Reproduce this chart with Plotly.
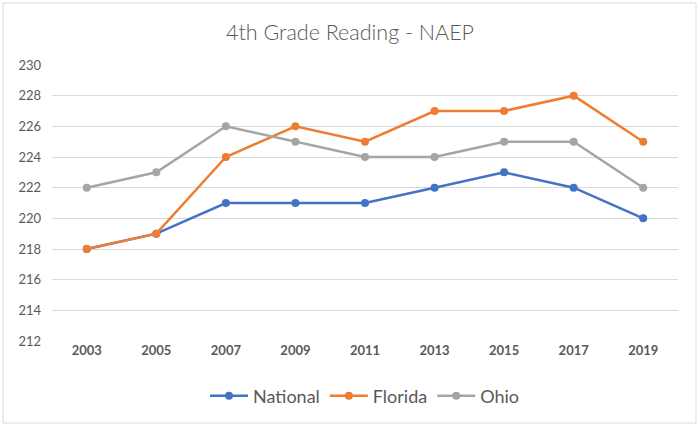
import plotly.graph_objects as go

years = ["2003", "2005", "2007", "2009", "2011", "2013", "2015", "2017", "2019"]
national = [218, 219, 221, 221, 221, 222, 223, 222, 220]
florida = [218, 219, 224, 226, 225, 227, 227, 228, 225]
ohio = [222, 223, 226, 225, 224, 224, 225, 225, 222]
y_ticks = [212, 214, 216, 218, 220, 222, 224, 226, 228, 230]

series = [("National", national, "#4472C4"), ("Florida", florida, "#ED7D31"), ("Ohio", ohio, "#A5A5A5")]

fig = go.Figure()
for name, vals, col in series:
    fig.add_trace(go.Scatter(x=years, y=vals, name=name, mode="lines+markers",
                             line=dict(color=col, width=2.5),
                             marker=dict(color=col, size=8),
                             cliponaxis=False))

L, R, T, B = 52, 22, 65, 86
W, H = 700, 427
pw, ph = W - L - R, H - T - B

fig.update_layout(
    width=W, height=H,
    margin=dict(l=L, r=R, t=T, b=B),
    paper_bgcolor="white", plot_bgcolor="white",
    font=dict(family="Lato, 'Open Sans', sans-serif", color="#595959"),
    title=dict(text="4th Grade Reading - NAEP", x=0.5, xanchor="center",
               y=1 - 32 / H, yanchor="middle",
               font=dict(size=21.5, color="#595959", family="Lato, sans-serif", weight=300)),
    xaxis=dict(type="category", showgrid=False, zeroline=False, showline=False,
               ticks="", tickfont=dict(size=13, color="#595959", family="Lato, sans-serif", weight="bold"),
               range=[-0.5, len(years) - 0.5]),
    yaxis=dict(range=[212, 230], tickvals=y_ticks, showgrid=True, gridcolor="#D9D9D9",
               gridwidth=1, zeroline=False, showline=False, ticks="",
               tickfont=dict(size=13, color="#595959"), ticklabelstandoff=10),
    legend=dict(orientation="h", x=0.5, xanchor="center", y=-(396 - 341) / ph, yanchor="middle",
                font=dict(size=18, color="#595959"), itemwidth=38, traceorder="normal"),
    showlegend=True,
)

fig.add_shape(type="rect", xref="paper", yref="paper",
              x0=(3 - L) / pw, x1=(696 - L) / pw,
              y0=(H - B - 423) / ph, y1=(H - B - 3) / ph,
              line=dict(color="#D9D9D9", width=1), fillcolor="rgba(0,0,0,0)", layer="below")

fig.write_html("out.html", config={"displayModeBar": False},
               post_script="document.body.style.margin='0';document.body.style.overflow='hidden';")
